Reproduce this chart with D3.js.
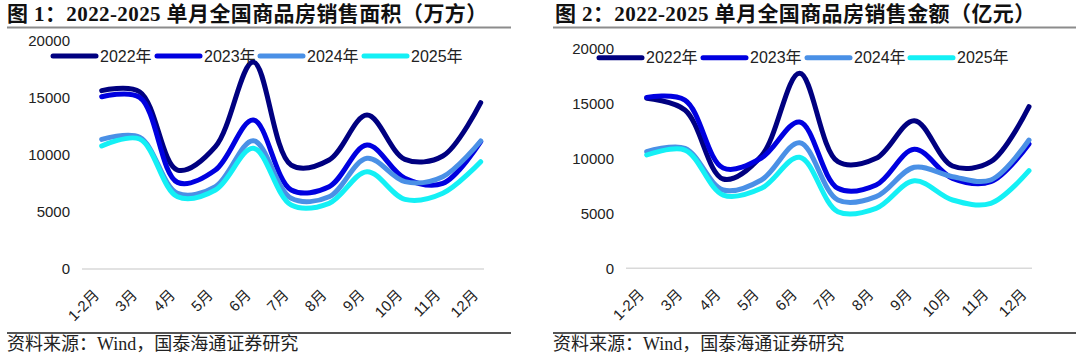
<!DOCTYPE html>
<html><head><meta charset="utf-8">
<script src="https://cdn.jsdelivr.net/npm/d3@7"></script>
<style>
html,body{margin:0;padding:0;background:#fff;}
svg{display:block;}
</style></head>
<body>
<svg id="c" width="1080" height="356"></svg>
<script>
const months = ["1-2月","3月","4月","5月","6月","7月","8月","9月","10月","11月","12月"];
const seriesNames = ["2022年","2023年","2024年","2025年"];
const seriesColors = ["#000080","#0000E0","#4A90E6","#14F0F5"];
const yTicks = [0,5000,10000,15000,20000];

// 图1 面积（万方）
const area2022 = [15650,15550,8680,10730,18150,9120,9560,13500,9620,9910,14590];
const area2023 = [15110,15060,7600,8680,13070,6930,7220,10870,7950,7510,11170];
const area2024 = [11370,11550,6640,7220,11250,6200,6340,9710,7660,8100,11230];
const area2025 = [10790,11400,6340,6930,10590,5610,5760,8530,6110,6640,9410];

// 图2 金额（亿元）
const amt2022 = [15450,14390,8120,10210,17730,9690,10000,13420,9300,9690,14690];
const amt2023 = [15540,15290,9120,10030,13300,7270,7570,10820,8180,7870,11300];
const amt2024 = [10600,10910,7120,8030,11420,6210,6510,9180,8330,8030,11660];
const amt2025 = [10300,10750,6660,7270,10090,5150,5450,7960,6210,5910,8870];

const titles = ["图 1：2022-2025 单月全国商品房销售面积（万方）","图 2：2022-2025 单月全国商品房销售金额（亿元）"];
const source = "资料来源：Wind，国泰海通证券研究";

const svg = d3.select("#c");

const charts = [
  {data:[area2022,area2023,area2024,area2025], title:titles[0], x0:7, x1:511, titleX:7,
   px:[101.7,480.7], py:[269,41], axisX:82, gridEnd:484, legX:[53,157,260,364], legY:56},
  {data:[amt2022,amt2023,amt2024,amt2025], title:titles[1], x0:553, x1:1076, titleX:555,
   px:[646.7,1029], py:[268.3,48.3], axisX:626, gridEnd:1032, legX:[599,703,807,910], legY:57.7}
];

charts.forEach(ch=>{
  const g = svg.append("g");
  // title
  g.append("text").attr("x",ch.titleX).attr("y",21)
    .attr("font-family","'Liberation Serif','Noto Sans CJK SC',serif")
    .attr("font-weight","bold").attr("font-size",21).attr("letter-spacing",0.4).attr("fill","#111")
    .text(ch.title);
  g.append("line").attr("x1",ch.x0).attr("x2",ch.x1).attr("y1",27.5).attr("y2",27.5)
    .attr("stroke","#8c8c8c").attr("stroke-width",2);
  g.append("line").attr("x1",ch.x0).attr("x2",ch.x1).attr("y1",333).attr("y2",333)
    .attr("stroke","#555").attr("stroke-width",2);
  g.append("text").attr("x",ch.x0).attr("y",350)
    .attr("font-family","'Liberation Serif','Noto Sans CJK SC',serif")
    .attr("font-size",18).attr("fill","#222").text(source);

  const x = d3.scalePoint().domain(months).range(ch.px);
  const y = d3.scaleLinear().domain([0,20000]).range(ch.py);

  // zero gridline
  g.append("line").attr("x1",ch.axisX).attr("x2",ch.gridEnd)
    .attr("y1",y(0)).attr("y2",y(0)).attr("stroke","#d9d9d9").attr("stroke-width",1.5);

  const ya = g.append("g").attr("transform",`translate(${ch.axisX},0)`)
    .call(d3.axisLeft(y).tickValues(yTicks).tickSize(0).tickPadding(12).tickFormat(d3.format("d")));
  ya.select(".domain").remove();
  ya.selectAll("text").attr("font-family","'Liberation Sans',Arial,sans-serif")
    .attr("font-size",15).attr("fill","#222");

  const xa = g.append("g").attr("transform",`translate(0,${y(0)})`)
    .call(d3.axisBottom(x).tickSize(0).tickPadding(0));
  xa.select(".domain").remove();
  xa.selectAll("text").attr("font-family","'Liberation Sans','Noto Sans CJK SC',sans-serif")
    .attr("font-size",15).attr("fill","#222")
    .attr("text-anchor","end")
    .attr("dy",0)
    .attr("transform","translate(-2,27) rotate(-45)");

  const line = d3.line().x((d,i)=>x(months[i])).y(d=>y(d)).curve(d3.curveCatmullRom.alpha(0.5));
  ch.data.forEach((s,k)=>{
    g.append("path").datum(s).attr("d",line).attr("fill","none")
      .attr("stroke",seriesColors[k]).attr("stroke-width",5)
      .attr("stroke-linecap","round").attr("stroke-linejoin","round");
  });

  // legend
  seriesNames.forEach((n,k)=>{
    const lx = ch.legX[k];
    g.append("line").attr("x1",lx).attr("x2",lx+43).attr("y1",ch.legY).attr("y2",ch.legY)
      .attr("stroke",seriesColors[k]).attr("stroke-width",5).attr("stroke-linecap","round");
    g.append("text").attr("x",lx+47).attr("y",ch.legY+5.5)
      .attr("font-family","'Liberation Sans','Noto Sans CJK SC',sans-serif")
      .attr("font-size",16).attr("fill","#222").text(n);
  });
});
</script>
</body></html>
